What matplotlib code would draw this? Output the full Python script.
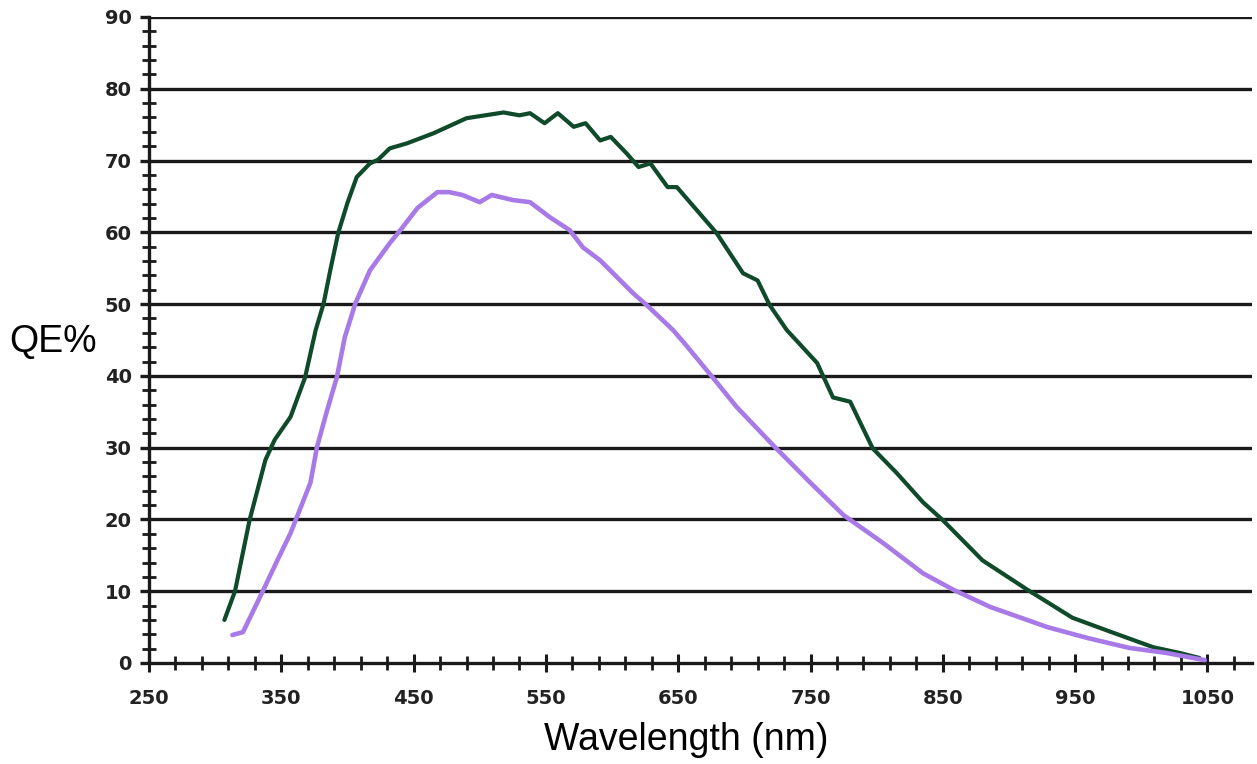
import numpy as np
import matplotlib
matplotlib.use("Agg")
import matplotlib.pyplot as plt
from matplotlib.ticker import FixedLocator, MultipleLocator

# green curve (upper)
green_nm = [307, 315, 326, 338, 345, 357, 368, 376, 382, 387, 393, 400, 407, 417, 423,
            432, 445, 465, 490, 518, 530, 538, 549, 559, 571, 580, 591, 599, 611, 620,
            629, 642, 649, 679, 699, 710, 719, 732, 755, 767, 780, 797, 815, 835, 850,
            880, 914, 948, 979, 1009, 1029, 1044]
green_qe = [6.0, 10.0, 19.9, 28.3, 31.1, 34.3, 39.8, 46.4, 50.1, 54.7, 59.9, 64.1, 67.7,
            69.6, 70.1, 71.7, 72.4, 73.8, 75.9, 76.7, 76.3, 76.6, 75.2, 76.6, 74.7, 75.2,
            72.8, 73.3, 71.0, 69.1, 69.6, 66.3, 66.3, 59.9, 54.3, 53.3, 49.9, 46.4, 41.8,
            37.0, 36.4, 29.9, 26.5, 22.4, 19.9, 14.3, 10.2, 6.3, 4.2, 2.2, 1.4, 0.7]

# purple curve (lower)
purple_nm = [313, 321, 336, 347, 357, 372, 377, 384, 392, 398, 406, 417, 432, 440, 453,
             468, 477, 487, 500, 509, 525, 538, 553, 568, 578, 591, 616, 626, 646, 654,
             676, 694, 723, 750, 775, 805, 835, 858, 886, 929, 959, 991, 1019, 1048]
purple_qe = [3.9, 4.3, 10.0, 14.3, 18.1, 25.1, 30.1, 34.8, 39.8, 45.4, 50.1, 54.7, 58.5,
             60.3, 63.4, 65.6, 65.6, 65.2, 64.2, 65.2, 64.5, 64.2, 62.1, 60.3, 57.9, 56.1,
             51.5, 49.9, 46.4, 44.7, 39.8, 35.7, 30.1, 25.1, 20.6, 16.7, 12.5, 10.2, 7.8,
             5.0, 3.5, 2.1, 1.4, 0.4]

x_labels = [250, 350, 450, 550, 650, 750, 850, 950, 1050]
y_labels = list(range(0, 91, 10))

fig = plt.figure(figsize=(12.57, 7.64), dpi=100)
ax = fig.add_axes([149 / 1257, 101 / 764, 1103 / 1257, 646 / 764])

ax.set_xlim(250, 1083.7)
ax.set_ylim(0, 90)

for y in y_labels[1:]:
    ax.axhline(y, color="#1a1a1a", lw=2.4, zorder=1)

ax.plot(green_nm, green_qe, color="#0f4a2a", lw=3.0, zorder=3,
        solid_joinstyle="round", solid_capstyle="round")
ax.plot(purple_nm, purple_qe, color="#a77ae8", lw=3.3, zorder=3,
        solid_joinstyle="round", solid_capstyle="round")

for s in ["top", "right"]:
    ax.spines[s].set_visible(False)
for s in ["left", "bottom"]:
    ax.spines[s].set_linewidth(2.4)
    ax.spines[s].set_color("#1a1a1a")

ax.xaxis.set_major_locator(FixedLocator(x_labels))
ax.xaxis.set_minor_locator(FixedLocator([v for v in range(270, 1084, 20) if v not in x_labels]))
ax.yaxis.set_major_locator(FixedLocator(y_labels))
ax.yaxis.set_minor_locator(MultipleLocator(2))

ax.tick_params(axis="x", which="major", direction="inout", length=13, width=2.2,
               color="#1a1a1a", pad=12, labelsize=14, labelcolor="#222222")
ax.tick_params(axis="x", which="minor", direction="inout", length=10, width=2.0,
               color="#1a1a1a")
ax.tick_params(axis="y", which="major", direction="out", length=6.5, width=2.4,
               color="#1a1a1a", pad=6, labelsize=14, labelcolor="#222222")
ax.tick_params(axis="y", which="minor", direction="inout", length=10.5, width=2.0,
               color="#1a1a1a")
for lab in ax.get_xticklabels() + ax.get_yticklabels():
    lab.set_fontweight("bold")

ax.set_xlabel("Wavelength (nm)", fontsize=27, family="Liberation Sans")
ax.xaxis.set_label_coords(0.487, -0.119)
ax.xaxis.label.set_va("center")

ax.set_ylabel("QE%", fontsize=27, family="Liberation Sans", rotation=0)
ax.yaxis.set_label_coords(-0.087, 0.497)
ax.yaxis.label.set_va("center")
ax.yaxis.label.set_ha("center")

fig.savefig("out.png", dpi=100, facecolor="white")
